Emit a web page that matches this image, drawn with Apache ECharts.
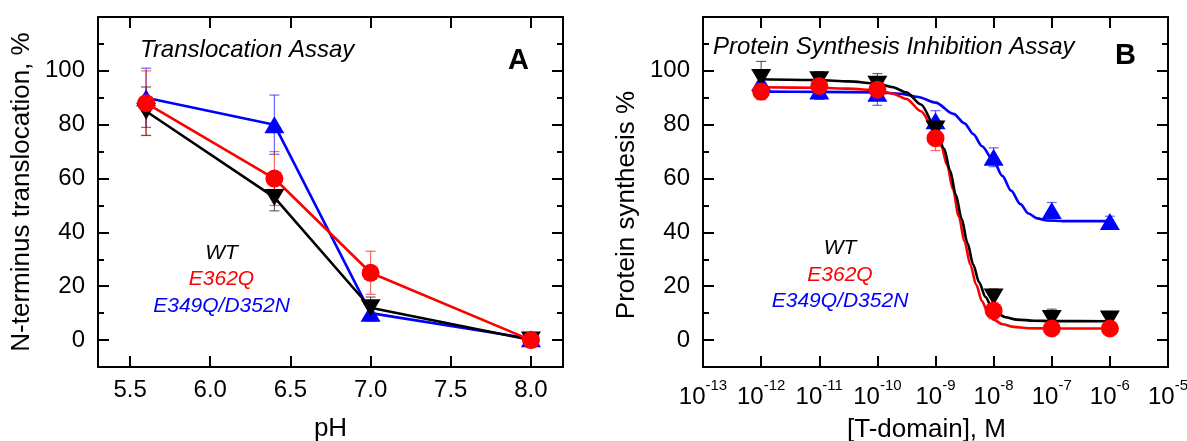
<!DOCTYPE html>
<html>
<head>
<meta charset="utf-8">
<title>Translocation and protein synthesis inhibition</title>
<script src="https://cdn.jsdelivr.net/npm/echarts@6/dist/echarts.min.js"></script>
<style>
  html, body { margin: 0; padding: 0; background: #ffffff; }
  #chart { width: 1187px; height: 441px; }
</style>
</head>
<body>
<div id="chart"></div>
<script>
const FONT = '"Liberation Sans", Arial, sans-serif';
const BLACK = '#000000';
const RED = '#ff0000';
const BLUE = '#0000ff';

// ---- Panel A: N-terminus translocation vs pH ----
const phValues = [5.6, 6.4, 7.0, 8.0];
const wtTransloc = [85, 53, 12, 0];
const wtTranslocErr = [9, 5, 4, 0];
const e362qTransloc = [88, 60, 25, 0];
const e362qTranslocErr = [12, 10, 8, 0];
const dmTransloc = [90, 80, 10, 0.5];
const dmTranslocErr = [11, 11, 3, 0];
const phTicks = [5.5, 6.0, 6.5, 7.0, 7.5, 8.0];
const percentTicks = [0, 20, 40, 60, 80, 100];

// ---- Panel B: protein synthesis vs log10 [T-domain] (M) ----
const logConc = [-12, -11, -10, -9, -8, -7, -6];
const wtSynth = [97.5, 96.7, 95, 78.4, 16, 8, 7.8];
const wtSynthErr = [6, 3, 4, 3, 3, 3.5, 2.5];
const e362qSynth = [92.3, 94.4, 93, 75, 10.9, 4.3, 4.3];
const e362qSynthErr = [3, 5, 3, 4.6, 3, 1, 1];
const dmSynth = [95.7, 92.5, 91.7, 81.5, 67.9, 48.1, 44];
const dmSynthErr = [4, 3, 4.5, 3.7, 3.5, 3, 2];

// fitted dose-response curves as traced (log10 conc, %)
const wtFitX = [-12, -11, -10.5, -10, -9.75, -9.5, -9.25, -9.0, -8.85, -8.75, -8.65, -8.55, -8.45, -8.35, -8.25, -8.14, -8.04, -7.94, -7.8, -7.6, -7.3, -7.0, -6.0];
const wtFitY = [96.9, 96.6, 96.1, 95.3, 94, 92, 87.5, 79, 71, 63, 54, 45, 36, 28, 21.5, 16, 12.5, 10, 8.5, 7.6, 7.2, 7.05, 7.0];
const e362qFitX = [-12, -11, -10.5, -10, -9.75, -9.5, -9.25, -9.0, -8.9, -8.8, -8.7, -8.6, -8.5, -8.4, -8.3, -8.2, -8.1, -8.0, -7.85, -7.66, -7.4, -7.0, -6.0];
const e362qFitY = [93.9, 93.7, 93.4, 92.8, 91.6, 89.6, 85, 77, 72, 65, 56, 46, 36.5, 28, 20.5, 14.5, 10.2, 7.6, 5.9, 4.9, 4.4, 4.3, 4.3];
const dmFitX = [-12, -11, -10, -9.6, -9.3, -9.0, -8.69, -8.5, -8.35, -8.2, -8.0, -7.85, -7.7, -7.54, -7.4, -7.25, -7.08, -6.8, -6.0];
const dmFitY = [92.3, 92.2, 92.0, 91.5, 90.3, 88.2, 84, 80.5, 76.5, 72, 66.5, 61, 55.5, 50.5, 47, 45.2, 44.4, 44.2, 44.2];

const zip = (xs, ys) => xs.map((x, i) => [x, ys[i]]);
const zip3 = (xs, ys, es) => xs.map((x, i) => [x, ys[i], es[i]]);

const frameLine = { show: true, onZero: false, lineStyle: { color: BLACK, width: 2 } };
const tickStyle = { color: BLACK, width: 2 };
const tickLabel = { color: BLACK, fontFamily: FONT, fontSize: 24 };
const titleText = { color: BLACK, fontFamily: FONT, fontSize: 26 };

// four y axes per panel: long/short inward ticks on the left and right frame edges
function percentAxes(gridIndex, name, namePadding) {
  const base = { gridIndex, type: 'value', min: -10, max: 120, interval: 10, splitLine: { show: false } };
  return [
    { ...base, position: 'left', axisLine: frameLine,
      axisTick: { show: true, inside: true, length: 6, lineStyle: tickStyle },
      axisLabel: { show: true, customValues: percentTicks, margin: 13, ...tickLabel },
      name, nameLocation: 'middle', nameGap: 63,
      nameTextStyle: { ...titleText, padding: namePadding } },
    { ...base, position: 'left', axisLine: { show: false },
      axisTick: { show: true, inside: true, length: 11, customValues: percentTicks, lineStyle: tickStyle },
      axisLabel: { show: false } },
    { ...base, position: 'right', axisLine: frameLine,
      axisTick: { show: true, inside: true, length: 6, lineStyle: tickStyle },
      axisLabel: { show: false } },
    { ...base, position: 'right', axisLine: { show: false },
      axisTick: { show: true, inside: true, length: 11, customValues: percentTicks, lineStyle: tickStyle },
      axisLabel: { show: false } }
  ];
}

const phBase = { gridIndex: 0, type: 'value', min: 5.3, max: 8.2, splitLine: { show: false } };
const phTick = { show: true, inside: true, length: 11, customValues: phTicks, lineStyle: tickStyle };
const concBase = { gridIndex: 1, type: 'value', min: -13, max: -5, interval: 1, splitLine: { show: false } };
const concTick = { show: true, inside: true, length: 11, lineStyle: tickStyle };

const xAxes = [
  { ...phBase, position: 'bottom', axisLine: frameLine, axisTick: phTick,
    axisLabel: { customValues: phTicks, formatter: v => v.toFixed(1), margin: 11, ...tickLabel },
    name: 'pH', nameLocation: 'middle', nameGap: 49, nameTextStyle: titleText },
  { ...phBase, position: 'top', axisLine: frameLine, axisTick: phTick, axisLabel: { show: false } },
  { ...concBase, position: 'bottom', axisLine: frameLine, axisTick: concTick,
    axisLabel: {
      margin: 11, showMinLabel: true, showMaxLabel: true,
      formatter: v => '{b|10}{s|' + v + '}',
      rich: {
        b: { color: BLACK, fontFamily: FONT, fontSize: 24, lineHeight: 31, verticalAlign: 'bottom' },
        s: { color: BLACK, fontFamily: FONT, fontSize: 15, lineHeight: 15, verticalAlign: 'top' }
      }
    },
    name: '[T-domain], M', nameLocation: 'middle', nameGap: 50,
    nameTextStyle: { ...titleText, padding: [0, 18, 0, 0] } },
  { ...concBase, position: 'top', axisLine: frameLine, axisTick: concTick, axisLabel: { show: false } }
];

const yAxes = [
  ...percentAxes(0, 'N-terminus translocation, %', [0, 0, 0, 0]),
  ...percentAxes(1, 'Protein synthesis %', [0, 26, 0, 0])
];

function errorBars(xi, yi, data, color) {
  return {
    type: 'custom', xAxisIndex: xi, yAxisIndex: yi, data, silent: true, z: 1,
    encode: { x: 0, y: 1 },
    renderItem(params, api) {
      const x = api.value(0), y = api.value(1), e = api.value(2);
      if (!e) return null;
      const top = api.coord([x, y + e]);
      const bot = api.coord([x, y - e]);
      const cap = 5;
      const style = { stroke: color, lineWidth: 1.2, opacity: 0.6 };
      return {
        type: 'group',
        children: [
          { type: 'line', shape: { x1: top[0], y1: top[1], x2: bot[0], y2: bot[1] }, style },
          { type: 'line', shape: { x1: top[0] - cap, y1: top[1], x2: top[0] + cap, y2: top[1] }, style },
          { type: 'line', shape: { x1: bot[0] - cap, y1: bot[1], x2: bot[0] + cap, y2: bot[1] }, style }
        ]
      };
    }
  };
}

const markers = {
  wt: { symbol: 'triangle', symbolRotate: 180, symbolSize: [20, 17] },
  e362q: { symbol: 'circle', symbolSize: 18 },
  dm: { symbol: 'triangle', symbolRotate: 0, symbolSize: [20, 17] }
};

function phLine(name, ys, color, marker) {
  return {
    type: 'line', name, xAxisIndex: 0, yAxisIndex: 0, data: zip(phValues, ys),
    ...marker, showSymbol: true, showAllSymbol: true,
    lineStyle: { color, width: 2.6 }, itemStyle: { color }, z: 3
  };
}

function fitCurve(name, xs, ys, color) {
  return {
    type: 'line', name, xAxisIndex: 2, yAxisIndex: 4, data: zip(xs, ys),
    showSymbol: false, smooth: 0.3, smoothMonotone: 'x',
    lineStyle: { color, width: 2.6 }, z: 2
  };
}

function points(name, ys, color, marker) {
  return {
    type: 'scatter', name, xAxisIndex: 2, yAxisIndex: 4, data: zip(logConc, ys),
    ...marker, itemStyle: { color, opacity: 1 }, z: 4
  };
}

const series = [
  errorBars(0, 0, zip3(phValues, dmTransloc, dmTranslocErr), BLUE),
  errorBars(0, 0, zip3(phValues, wtTransloc, wtTranslocErr), BLACK),
  errorBars(0, 0, zip3(phValues, e362qTransloc, e362qTranslocErr), RED),
  phLine('E349Q/D352N', dmTransloc, BLUE, markers.dm),
  phLine('WT', wtTransloc, BLACK, markers.wt),
  phLine('E362Q', e362qTransloc, RED, markers.e362q),

  errorBars(2, 4, zip3(logConc, dmSynth, dmSynthErr), BLUE),
  errorBars(2, 4, zip3(logConc, wtSynth, wtSynthErr), BLACK),
  errorBars(2, 4, zip3(logConc, e362qSynth, e362qSynthErr), RED),
  fitCurve('E349Q/D352N fit', dmFitX, dmFitY, BLUE),
  fitCurve('E362Q fit', e362qFitX, e362qFitY, RED),
  fitCurve('WT fit', wtFitX, wtFitY, BLACK),
  points('E349Q/D352N', dmSynth, BLUE, markers.dm),
  points('WT', wtSynth, BLACK, markers.wt),
  points('E362Q', e362qSynth, RED, markers.e362q)
];

function label(text, x, y, color, opts) {
  return {
    type: 'text', x, y, silent: true, z: 10,
    style: Object.assign({
      text, fill: color, fontFamily: FONT, fontSize: 21, fontStyle: 'italic',
      textAlign: 'center', textVerticalAlign: 'middle'
    }, opts || {})
  };
}

const graphic = [
  label('Translocation Assay', 140, 50, BLACK, { fontSize: 24, textAlign: 'left' }),
  label('A', 529, 61, BLACK, { fontSize: 29, fontStyle: 'normal', fontWeight: 'bold', textAlign: 'right' }),
  label('WT', 221.5, 253, BLACK),
  label('E362Q', 221.5, 279.5, RED),
  label('E349Q/D352N', 221.5, 306, BLUE),

  label('Protein Synthesis Inhibition Assay', 713, 47, BLACK, { fontSize: 24, textAlign: 'left' }),
  label('B', 1136, 56, BLACK, { fontSize: 29, fontStyle: 'normal', fontWeight: 'bold', textAlign: 'right' }),
  label('WT', 840, 248.5, BLACK),
  label('E362Q', 840, 275, RED),
  label('E349Q/D352N', 840, 301.5, BLUE)
];

const chart = echarts.init(document.getElementById('chart'), null, { renderer: 'canvas' });
chart.setOption({
  animation: false,
  backgroundColor: '#ffffff',
  grid: [
    { left: 98, top: 17, width: 465, height: 350, outerBoundsMode: 'none', containLabel: false },
    { left: 703, top: 17, width: 465, height: 350, outerBoundsMode: 'none', containLabel: false }
  ],
  xAxis: xAxes,
  yAxis: yAxes,
  series,
  graphic
});
</script>
</body>
</html>
